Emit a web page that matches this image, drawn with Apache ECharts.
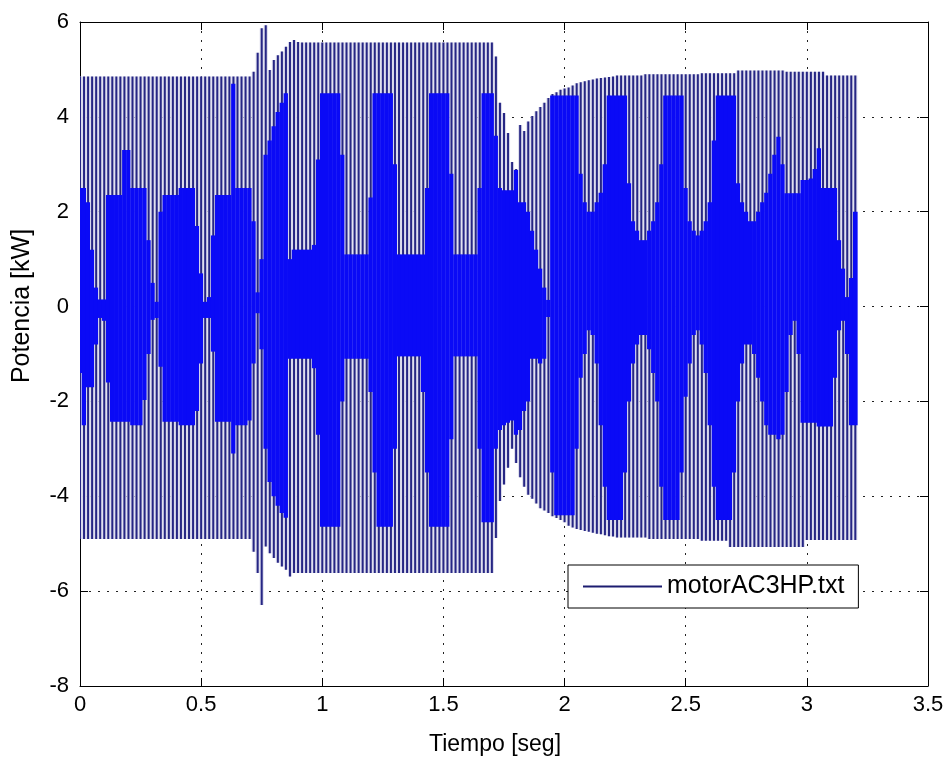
<!DOCTYPE html>
<html>
<head>
<meta charset="utf-8">
<title>motorAC3HP</title>
<script src="https://cdn.jsdelivr.net/npm/echarts@6/dist/echarts.min.js"></script>
<style>
  html, body { margin: 0; padding: 0; background: #fff; }
  #chart { width: 948px; height: 760px; }
</style>
</head>
<body>
<div id="chart"></div>
<script>
// una oscilación cada 1/60 s, de 0 a 3.2 s
const t0 = 0
const dt = 1 / 60

// extremos de cada oscilación (kW)
const outerHi = [
  4.85, 4.85, 4.85, 4.85, 4.85, 4.85, 4.85, 4.85, 4.85, 4.85,
  4.85, 4.85, 4.85, 4.85, 4.85, 4.85, 4.85, 4.85, 4.85, 4.85,
  4.85, 4.85, 4.85, 4.85, 4.85, 4.85, 4.85, 4.85, 4.85, 4.85,
  4.85, 4.85, 4.85, 4.85, 4.85, 4.85, 4.85, 4.85, 4.85, 4.85,
  4.85, 4.85, 4.85, 4.95, 5.35, 5.87, 5.93, 4.99, 5.2, 5.3,
  5.38, 5.48, 5.58, 5.62, 5.58, 5.57, 5.57, 5.57, 5.57, 5.57,
  5.57, 5.57, 5.57, 5.57, 5.57, 5.57, 5.57, 5.57, 5.57, 5.57,
  5.57, 5.57, 5.57, 5.57, 5.57, 5.57, 5.57, 5.57, 5.57, 5.57,
  5.57, 5.57, 5.57, 5.57, 5.57, 5.57, 5.57, 5.57, 5.57, 5.57,
  5.57, 5.57, 5.57, 5.57, 5.57, 5.57, 5.57, 5.57, 5.57, 5.57,
  5.57, 5.57, 5.57, 5.27, 4.3, 4.08, 3.66, 3.05, 2.9, 3.83,
  3.7, 3.9, 4.02, 4.12, 4.21, 4.3, 4.4, 4.48, 4.52, 4.57,
  4.6, 4.62, 4.66, 4.71, 4.73, 4.75, 4.77, 4.79, 4.81, 4.82,
  4.83, 4.84, 4.85, 4.87, 4.87, 4.87, 4.87, 4.87, 4.87, 4.87,
  4.9, 4.9, 4.9, 4.9, 4.9, 4.9, 4.9, 4.9, 4.9, 4.9,
  4.9, 4.9, 4.9, 4.9, 4.92, 4.92, 4.92, 4.92, 4.92, 4.92,
  4.92, 4.92, 4.92, 4.98, 4.98, 4.98, 4.98, 4.98, 4.98, 4.98,
  4.98, 4.98, 4.98, 4.98, 4.98, 4.95, 4.95, 4.95, 4.95, 4.95,
  4.95, 4.95, 4.95, 4.95, 4.95, 4.87, 4.87, 4.87, 4.87, 4.87,
  4.87, 4.87, 4.87
]
const outerLo = [
  -4.9, -4.9, -4.9, -4.9, -4.9, -4.9, -4.9, -4.9, -4.9, -4.9,
  -4.9, -4.9, -4.9, -4.9, -4.9, -4.9, -4.9, -4.9, -4.9, -4.9,
  -4.9, -4.9, -4.9, -4.9, -4.9, -4.9, -4.9, -4.9, -4.9, -4.9,
  -4.9, -4.9, -4.9, -4.9, -4.9, -4.9, -4.9, -4.9, -4.9, -4.9,
  -4.9, -4.9, -4.9, -5.17, -5.62, -6.29, -5.06, -5.2, -5.3, -5.4,
  -5.48, -5.55, -5.69, -5.62, -5.62, -5.62, -5.62, -5.62, -5.62, -5.62,
  -5.62, -5.62, -5.62, -5.62, -5.62, -5.62, -5.62, -5.62, -5.62, -5.62,
  -5.62, -5.62, -5.62, -5.62, -5.62, -5.62, -5.62, -5.62, -5.62, -5.62,
  -5.62, -5.62, -5.62, -5.62, -5.62, -5.62, -5.62, -5.62, -5.62, -5.62,
  -5.62, -5.62, -5.62, -5.62, -5.62, -5.62, -5.62, -5.62, -5.62, -5.62,
  -5.62, -5.62, -5.62, -4.88, -4.1, -3.75, -3.4, -3.0, -3.3, -3.6,
  -3.8, -3.97, -4.05, -4.15, -4.25, -4.3, -4.35, -4.42, -4.46, -4.5,
  -4.55, -4.62, -4.66, -4.69, -4.71, -4.73, -4.75, -4.77, -4.79, -4.8,
  -4.82, -4.84, -4.85, -4.87, -4.87, -4.87, -4.87, -4.87, -4.87, -4.87,
  -4.87, -4.9, -4.9, -4.9, -4.9, -4.9, -4.9, -4.9, -4.9, -4.9,
  -4.9, -4.9, -4.9, -4.9, -4.94, -4.94, -4.94, -4.94, -4.94, -4.94,
  -4.94, -5.07, -5.07, -5.07, -5.07, -5.07, -5.07, -5.07, -5.07, -5.07,
  -5.07, -5.07, -5.07, -5.07, -5.07, -5.07, -5.07, -5.07, -5.07, -5.07,
  -4.92, -4.92, -4.92, -4.92, -4.92, -4.92, -4.92, -4.92, -4.92, -4.92,
  -4.92, -4.92, -4.92
]

// zona densa (relleno continuo) alrededor de cero
const innerHi = [
  2.5, 2.5, 2.2, 1.2, 0.4, 0.15, 0.15, 2.35, 2.35, 2.35,
  2.35, 3.3, 3.3, 2.5, 2.5, 2.5, 2.5, 1.4, 0.5, 0.1,
  2.0, 2.35, 2.35, 2.35, 2.35, 2.5, 2.5, 2.5, 2.5, 1.7,
  0.7, 0.1, 0.2, 1.5, 2.35, 2.35, 2.35, 2.35, 4.7, 2.5,
  2.5, 2.5, 2.5, 1.8, 0.3, 1.0, 3.2, 3.5, 3.8, 4.1,
  4.3, 4.5, 1.0, 1.2, 1.2, 1.2, 1.2, 1.2, 1.3, 3.1,
  4.5, 4.5, 4.5, 4.5, 4.5, 3.2, 1.1, 1.1, 1.1, 1.1,
  1.1, 1.1, 2.3, 4.5, 4.5, 4.5, 4.5, 4.5, 3.0, 1.1,
  1.1, 1.1, 1.1, 1.1, 1.1, 1.1, 2.5, 4.5, 4.5, 4.5,
  4.5, 4.5, 2.8, 1.1, 1.1, 1.1, 1.1, 1.1, 1.1, 2.5,
  4.5, 4.5, 4.5, 3.6, 2.5, 2.45, 2.45, 2.45, 2.88, 2.2,
  2.2, 2.0, 1.6, 1.2, 0.8, 0.4, 0.14, 4.45, 4.45, 4.45,
  4.45, 4.45, 4.45, 4.45, 2.8, 2.2, 2.0, 2.0, 2.2, 2.4,
  3.0, 4.45, 4.45, 4.45, 4.45, 4.45, 2.6, 1.8, 1.6, 1.4,
  1.4, 1.6, 1.8, 2.2, 3.0, 4.45, 4.45, 4.45, 4.45, 4.45,
  2.5, 1.8, 1.6, 1.5, 1.6, 1.8, 2.2, 3.5, 4.45, 4.45,
  4.45, 4.45, 4.45, 2.6, 2.2, 2.0, 1.8, 1.8, 2.0, 2.2,
  2.4, 2.8, 3.2, 3.58, 3.0, 2.39, 2.39, 2.39, 2.39, 2.67,
  2.67, 2.7, 2.9, 3.34, 2.5, 2.5, 2.5, 2.5, 1.4, 0.8,
  0.2, 0.6, 2.0
]
const innerLo = [
  -1.4, -2.5, -1.7, -1.7, -0.8, -0.24, -0.3, -1.6, -2.43, -2.43,
  -2.43, -2.43, -2.43, -2.5, -2.5, -2.5, -1.97, -1.0, -0.28, -0.24,
  -1.27, -2.43, -2.43, -2.43, -2.43, -2.5, -2.5, -2.5, -2.5, -2.2,
  -1.2, -0.24, -0.24, -0.95, -2.43, -2.43, -2.43, -2.43, -3.1, -2.5,
  -2.5, -2.5, -2.4, -1.2, -0.14, -0.9, -3.0, -3.7, -4.0, -4.2,
  -4.35, -4.45, -1.1, -1.1, -1.1, -1.1, -1.1, -1.1, -1.3, -2.7,
  -4.64, -4.64, -4.64, -4.64, -4.64, -2.0, -1.1, -1.1, -1.1, -1.1,
  -1.1, -1.1, -1.8, -3.5, -4.64, -4.64, -4.64, -4.64, -3.0, -1.05,
  -1.05, -1.05, -1.05, -1.05, -1.05, -1.8, -3.5, -4.64, -4.64, -4.64,
  -4.64, -4.64, -2.8, -1.05, -1.05, -1.05, -1.05, -1.05, -1.05, -3.0,
  -4.55, -4.55, -4.55, -3.0, -2.6, -2.5, -2.45, -2.4, -2.7, -2.6,
  -2.2, -2.0, -1.1, -1.1, -1.2, -1.1, -0.22, -3.5, -4.4, -4.4,
  -4.4, -4.4, -4.4, -3.0, -1.5, -1.0, -0.5, -0.6, -1.2, -2.5,
  -3.8, -4.5, -4.5, -4.5, -4.5, -3.5, -2.0, -1.2, -0.8, -0.6,
  -0.6, -0.9, -1.4, -2.0, -3.8, -4.5, -4.5, -4.5, -4.5, -3.5,
  -1.9, -1.2, -0.6, -0.5, -0.8, -1.4, -2.5, -3.8, -4.5, -4.5,
  -4.5, -4.5, -3.5, -2.0, -1.2, -0.8, -0.8, -1.0, -1.5, -2.0,
  -2.5, -2.7, -2.7, -2.8, -2.7, -1.8, -0.6, -0.3, -1.0, -2.45,
  -2.45, -2.45, -2.45, -2.53, -2.53, -2.53, -2.53, -1.5, -0.5, -0.3,
  -1.0, -2.5, -2.5
]

const xTicks = [0, 0.5, 1, 1.5, 2, 2.5, 3, 3.5]
const yTicks = [-8, -6, -4, -2, 0, 2, 4, 6]
const seriesName = 'motorAC3HP.txt'

const FONT = '"Liberation Sans", Arial, sans-serif'
const lineColor = '#262684'
const gapColor = '#dadaec'
const fillColor = '#0a0af6'

const rows = outerHi.map((hi, i) => [t0 + i * dt, outerLo[i], hi, innerLo[i], innerHi[i]])

function renderItem(params, api) {
  const t = api.value(0)
  const top = api.coord([t, api.value(2)])
  const bot = api.coord([t, api.value(1)])
  const inTop = api.coord([t, api.value(4)])
  const inBot = api.coord([t, api.value(3)])
  const step = api.size([dt, 0])[0]
  const lw = 2
  return {
    type: 'group',
    children: [
      {
        type: 'rect',
        shape: { x: top[0] - step / 2, y: top[1], width: step, height: bot[1] - top[1] },
        style: { fill: gapColor }
      },
      {
        type: 'rect',
        shape: { x: top[0] - lw / 2, y: top[1], width: lw, height: bot[1] - top[1] },
        style: { fill: lineColor }
      },
      {
        type: 'rect',
        shape: { x: inTop[0] - step / 2 - 0.3, y: inTop[1], width: step + 0.6, height: inBot[1] - inTop[1] },
        style: { fill: fillColor }
      }
    ]
  }
}

const gridDots = { show: true, lineStyle: { color: '#222', width: 1, type: [2, 7] } }
const tickIn = { show: true, inside: true, length: 8, lineStyle: { color: '#000' } }
const blackLine = { show: true, onZero: false, lineStyle: { color: '#000', width: 1 } }
const tickLabel = { color: '#000', fontSize: 22, fontFamily: FONT }

const chart = echarts.init(document.getElementById('chart'))
chart.setOption({
  animation: false,
  backgroundColor: '#fff',
  grid: { left: 80, right: 20, top: 22, bottom: 74 },
  xAxis: [
    {
      type: 'value',
      min: xTicks[0],
      max: xTicks[xTicks.length - 1],
      interval: xTicks[1] - xTicks[0],
      axisLine: blackLine,
      axisTick: tickIn,
      axisLabel: { ...tickLabel, margin: 8 },
      splitLine: gridDots
    },
    {
      type: 'value',
      position: 'top',
      min: xTicks[0],
      max: xTicks[xTicks.length - 1],
      interval: xTicks[1] - xTicks[0],
      axisLine: blackLine,
      axisTick: tickIn,
      axisLabel: { show: false },
      splitLine: { show: false }
    }
  ],
  yAxis: [
    {
      type: 'value',
      min: yTicks[0],
      max: yTicks[yTicks.length - 1],
      interval: yTicks[1] - yTicks[0],
      axisLine: blackLine,
      axisTick: tickIn,
      axisLabel: { ...tickLabel, margin: 11 },
      splitLine: gridDots
    },
    {
      type: 'value',
      position: 'right',
      min: yTicks[0],
      max: yTicks[yTicks.length - 1],
      interval: yTicks[1] - yTicks[0],
      axisLine: blackLine,
      axisTick: tickIn,
      axisLabel: { show: false },
      splitLine: { show: false }
    }
  ],
  legend: {
    data: [seriesName],
    left: 568,
    top: 565,
    orient: 'vertical',
    icon: 'rect',
    itemWidth: 79,
    itemHeight: 2,
    itemGap: 0,
    itemStyle: { color: '#1c1c70' },
    padding: [9, 14, 9, 15],
    backgroundColor: '#fff',
    borderColor: '#000',
    borderWidth: 1,
    borderRadius: 0,
    textStyle: { color: '#000', fontSize: 25, fontFamily: FONT }
  },
  graphic: [
    {
      type: 'text',
      x: 495,
      y: 745,
      style: { text: 'Tiempo [seg]', fill: '#000', fontSize: 23, fontFamily: FONT, textAlign: 'center', textVerticalAlign: 'middle' }
    },
    {
      type: 'text',
      x: 22,
      y: 306,
      rotation: Math.PI / 2,
      style: { text: 'Potencia [kW]', fill: '#000', fontSize: 25, fontFamily: FONT, textAlign: 'center', textVerticalAlign: 'middle' }
    }
  ],
  series: [
    {
      name: seriesName,
      type: 'custom',
      renderItem: renderItem,
      itemStyle: { color: lineColor },
      encode: { x: 0, y: [1, 2] },
      data: rows,
      clip: true
    }
  ]
})
</script>
</body>
</html>
